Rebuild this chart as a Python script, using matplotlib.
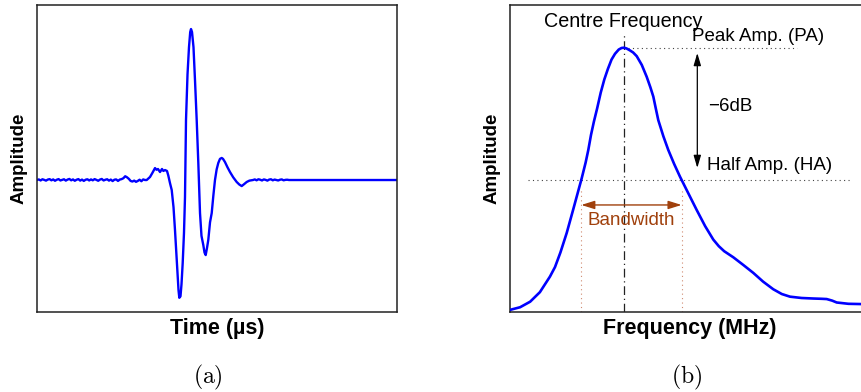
import numpy as np
import matplotlib
matplotlib.use("Agg")
import matplotlib.pyplot as plt

plt.rcParams["font.family"] = ["Liberation Sans", "DejaVu Sans"]
plt.rcParams["mathtext.fontset"] = "cm"

# --- (a) time-domain pulse ---
time_pre = np.round(np.arange(0, 61) * 0.05, 3)  # 0.0 .. 3.0 us
amp_pre = [0.0, 0.004, -0.003, 0.005, 0.001, -0.004, 0.003, 0.006, -0.002, 0.004,
           -0.005, 0.002, 0.006, -0.003, 0.001, 0.005, -0.004, 0.003, 0.007, -0.002,
           0.004, -0.005, 0.002, 0.006, -0.004, 0.003, -0.006, 0.002, 0.005, -0.003,
           0.004, -0.002, 0.006, 0.001, -0.005, 0.003, 0.007, -0.003, 0.002, 0.005,
           -0.004, 0.003, -0.007, 0.002, 0.004, -0.006, 0.003, 0.006, 0.012, 0.025,
           0.018, 0.008, -0.006, -0.010, -0.004, -0.012, -0.006, 0.002, -0.008, 0.004,
           0.0]
time_pulse = [3.047, 3.139, 3.20, 3.278, 3.32, 3.361, 3.417, 3.472, 3.51, 3.556,
              3.611, 3.647, 3.694, 3.742, 3.792, 3.833, 3.897, 3.931, 3.953, 3.986,
              4.014, 4.047, 4.083, 4.111, 4.139, 4.181, 4.222, 4.256, 4.278, 4.306,
              4.347, 4.389, 4.436, 4.481, 4.528, 4.569, 4.619, 4.653, 4.686, 4.722,
              4.758, 4.806, 4.853, 4.90, 4.944, 4.99, 5.036, 5.083, 5.131, 5.167,
              5.222, 5.29, 5.361, 5.45, 5.547, 5.62, 5.686, 5.75, 5.825, 5.90]
amp_pulse = [0.0, 0.020, 0.045, 0.079, 0.068, 0.073, 0.053, 0.073, 0.060, 0.066,
             0.060, 0.030, -0.020, -0.066, -0.180, -0.331, -0.596, -0.730, -0.780, -0.770,
             -0.690, -0.550, -0.350, -0.113, 0.397, 0.700, 0.880, 0.980, 1.000, 0.980,
             0.880, 0.660, 0.397, 0.113, -0.219, -0.370, -0.430, -0.480, -0.497, -0.450,
             -0.397, -0.280, -0.219, -0.100, 0.0, 0.070, 0.113, 0.140, 0.146, 0.140,
             0.119, 0.085, 0.053, 0.018, -0.013, -0.030, -0.040, -0.028, -0.013, -0.004]
time_post = [6.0, 6.05, 6.1, 6.15, 6.2, 6.25, 6.3, 6.35, 6.4, 6.45, 6.5, 6.55, 6.6,
             6.65, 6.7, 6.75, 6.8, 6.85, 6.9, 6.95, 7.0, 10.0]
amp_post = [0.0, 0.004, -0.002, 0.005, 0.002, -0.003, 0.004, 0.001, -0.004, 0.003,
            0.005, -0.002, 0.003, 0.0, -0.003, 0.002, 0.004, -0.002, 0.001, 0.002,
            0.0, 0.0]

# --- (b) amplitude spectrum ---
freq = [0.0, 0.28, 0.56, 0.83, 1.11, 1.25, 1.40, 1.575, 1.75, 1.90,
        1.992, 2.10, 2.175, 2.25, 2.33, 2.42, 2.52, 2.62, 2.72, 2.82,
        2.917, 3.02, 3.10, 3.167, 3.24, 3.33, 3.42, 3.52, 3.66, 3.797,
        3.90, 3.981, 4.05, 4.119, 4.26, 4.397, 4.56, 4.722, 4.95, 5.186,
        5.42, 5.647, 5.80, 5.95, 6.203, 6.48, 6.758, 7.03, 7.314, 7.55,
        7.778, 8.10, 8.425, 8.65, 8.797, 8.95, 9.075, 9.4, 9.75, 10.0]
spec = [0.008, 0.018, 0.039, 0.075, 0.134, 0.170, 0.225, 0.299, 0.385, 0.460,
        0.506, 0.565, 0.613, 0.670, 0.720, 0.770, 0.830, 0.880, 0.920, 0.955,
        0.977, 0.993, 0.999, 1.000, 0.997, 0.990, 0.982, 0.968, 0.935, 0.890,
        0.850, 0.815, 0.770, 0.726, 0.665, 0.613, 0.560, 0.512, 0.450, 0.386,
        0.325, 0.274, 0.249, 0.230, 0.207, 0.178, 0.148, 0.115, 0.086, 0.068,
        0.058, 0.053, 0.051, 0.050, 0.049, 0.043, 0.036, 0.031, 0.030, 0.030]

t = np.concatenate([time_pre, time_pulse, time_post])
a = np.concatenate([amp_pre, amp_pulse, amp_post])
freq = np.array(freq)
spec = np.array(spec)

fig = plt.figure(figsize=(8.61, 3.92), dpi=100)
ax1 = fig.add_axes([37 / 861, 80 / 392, 360 / 861, 307 / 392])
ax2 = fig.add_axes([510 / 861, 80 / 392, 360 / 861, 307 / 392])

# --- (a) ---
ax1.plot(t, a, color="#0000ff", linewidth=1.7)
ax1.set_xlim(0, 10)
ax1.set_ylim(-0.874, 1.159)
ax1.set_xticks([])
ax1.set_yticks([])
ax1.set_xlabel("Time (µs)", fontsize=15.5, fontweight="bold", labelpad=4)
ax1.set_ylabel("Amplitude", fontsize=13.5, fontweight="bold", labelpad=7)
for s in ax1.spines.values():
    s.set_linewidth(1.1)
    s.set_color("#222222")

# --- (b) ---
brown = "#a0400c"
ax2.plot(freq, spec, color="#0000ff", linewidth=1.9, zorder=3)
ax2.set_xlim(0, 10)
ax2.set_ylim(0, 1.1616)
ax2.set_xticks([])
ax2.set_yticks([])
ax2.set_xlabel("Frequency (MHz)", fontsize=15.5, fontweight="bold", labelpad=4)
ax2.set_ylabel("Amplitude", fontsize=13.5, fontweight="bold", labelpad=7)
for s in ax2.spines.values():
    s.set_linewidth(1.1)
    s.set_color("#222222")

peak = spec.max()
ipk = np.argmax(spec)
fc = freq[ipk]
half = peak / 2
f_lo = np.interp(half, spec[:ipk + 1], freq[:ipk + 1])
f_hi = np.interp(half, spec[ipk:][::-1], freq[ipk:][::-1])

ax2.plot([fc, fc], [0, 1.056], color="#222222", linewidth=0.9,
         linestyle=(0, (7, 3, 1, 3)), zorder=2)
ax2.plot([fc + 0.1, 7.96], [peak, peak], color="#444444", linewidth=0.8,
         linestyle=(0, (1, 3)))
ax2.plot([0.5, 9.44], [half, half], color="#444444", linewidth=0.8,
         linestyle=(0, (1, 3)))
for f in (f_lo, f_hi):
    ax2.plot([f, f], [0, 0.469], color="#d08a70", linewidth=0.8,
             linestyle=(0, (1, 3)))

ax2.annotate("", xy=(5.203, 0.98), xytext=(5.203, 0.545),
             arrowprops=dict(arrowstyle="<|-|>,head_length=0.75,head_width=0.22",
                             color="black", linewidth=0.9, shrinkA=0, shrinkB=0))
ax2.annotate("", xy=(f_lo, 0.405), xytext=(f_hi, 0.405),
             arrowprops=dict(arrowstyle="<|-|>,head_length=0.8,head_width=0.25",
                             color=brown, linewidth=1.0, shrinkA=0, shrinkB=0))

ax2.text(0.953, 1.101, "Centre Frequency", fontsize=14.2, ha="left", va="center")
ax2.text(5.047, 1.044, "Peak Amp. (PA)", fontsize=13.5, ha="left", va="center")
ax2.text(5.5, 0.779, "\u22126dB", fontsize=13.5, ha="left", va="center")
ax2.text(5.48, 0.556, "Half Amp. (HA)", fontsize=13.5, ha="left", va="center")
ax2.text((f_lo + f_hi) / 2, 0.345, "Bandwidth", fontsize=13.5, ha="center",
         va="center", color=brown)

fig.text(208 / 861, 1 - 377 / 392, r"$\mathrm{(a)}$", fontsize=17, ha="center", va="center")
fig.text(687 / 861, 1 - 377 / 392, r"$\mathrm{(b)}$", fontsize=17, ha="center", va="center")

fig.savefig("out.png", dpi=100)
